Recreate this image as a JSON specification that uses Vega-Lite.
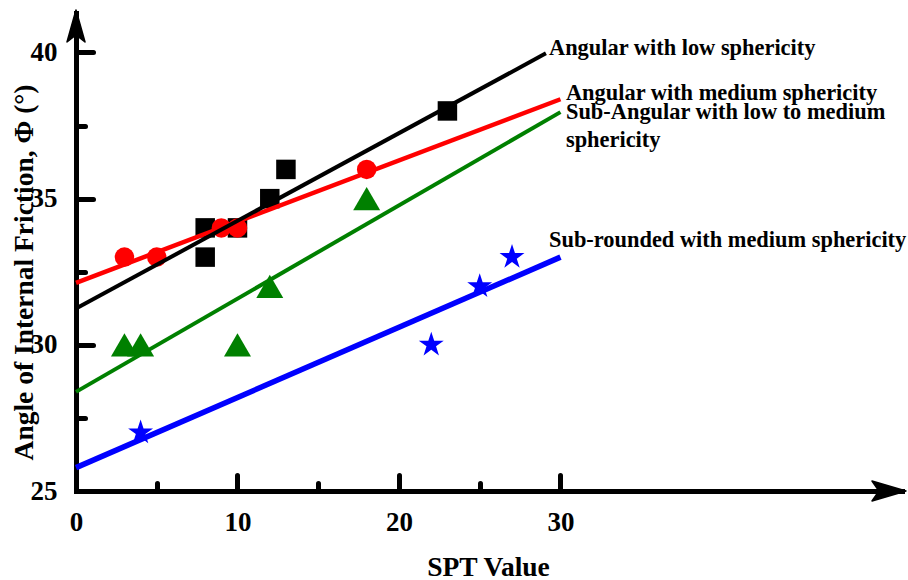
{
  "$schema": "https://vega.github.io/schema/vega-lite/v6.json",
  "width": 826,
  "height": 478,
  "autosize": {"type": "none"},
  "padding": {"left": 76, "top": 13, "right": 6, "bottom": 89},
  "background": "white",
  "config": {"view": {"stroke": null}, "font": "Liberation Serif"},
  "datasets": {
    "points": [
      {"series": "square", "x": 8, "y": 34},
      {"series": "square", "x": 8, "y": 33},
      {"series": "square", "x": 10, "y": 34},
      {"series": "square", "x": 12, "y": 35},
      {"series": "square", "x": 13, "y": 36},
      {"series": "square", "x": 23, "y": 38},
      {"series": "circle", "x": 3, "y": 33},
      {"series": "circle", "x": 5, "y": 33},
      {"series": "circle", "x": 9, "y": 34},
      {"series": "circle", "x": 10, "y": 34},
      {"series": "circle", "x": 18, "y": 36},
      {"series": "triangle", "x": 3, "y": 30},
      {"series": "triangle", "x": 4, "y": 30},
      {"series": "triangle", "x": 10, "y": 30},
      {"series": "triangle", "x": 12, "y": 32},
      {"series": "triangle", "x": 18, "y": 35},
      {"series": "star", "x": 4, "y": 27},
      {"series": "star", "x": 22, "y": 30},
      {"series": "star", "x": 25, "y": 32},
      {"series": "star", "x": 27, "y": 33}
    ],
    "lines": [
      {"series": "black", "x": 0, "y": 31.24},
      {"series": "black", "x": 29.1, "y": 39.97},
      {"series": "red", "x": 0, "y": 32.12},
      {"series": "red", "x": 30, "y": 38.4},
      {"series": "green", "x": 0, "y": 28.39},
      {"series": "green", "x": 30, "y": 37.96},
      {"series": "blue", "x": 0, "y": 25.8},
      {"series": "blue", "x": 30, "y": 33.0}
    ],
    "labels": [
      {"text": "Angular with low sphericity", "x": 29.29, "y": 40.15},
      {"text": "Angular with medium sphericity", "x": 30.34, "y": 38.6},
      {"text": "Sub-Angular with low to medium", "x": 30.34, "y": 37.96},
      {"text": "sphericity", "x": 30.34, "y": 37.0},
      {"text": "Sub-rounded with medium sphericity", "x": 29.29, "y": 33.58}
    ]
  },
  "encoding": {
    "x": {
      "field": "x", "type": "quantitative",
      "scale": {"domain": [0, 51.15], "nice": false, "zero": false},
      "axis": {
        "title": "SPT Value",
        "values": [0, 5, 10, 15, 20, 25, 30],
        "labelExpr": "datum.value % 10 === 0 ? datum.label : ''",
        "grid": false,
        "domainColor": "black", "domainWidth": 5, "domainCap": "square",
        "tickColor": "black", "tickWidth": 5, "tickCap": "round",
        "tickSize": {"condition": {"test": "datum.value % 10 === 0", "value": -16}, "value": -8},
        "labelFont": "Liberation Serif", "labelFontWeight": "bold", "labelFontSize": 27, "labelColor": "black",
        "labelBaseline": "alphabetic", "labelPadding": 55, "labelFlush": false, "labelOverlap": false, "labelBound": false,
        "titleFont": "Liberation Serif", "titleFontWeight": "bold", "titleFontSize": 27.5, "titleColor": "black",
        "titleBaseline": "alphabetic", "titleX": 412, "titleY": 84, "titleAnchor": "middle"
      }
    },
    "y": {
      "field": "y", "type": "quantitative",
      "scale": {"domain": [25, 41.35], "nice": false, "zero": false},
      "axis": {
        "title": "Angle of Internal Friction, Φ (°)",
        "values": [25, 27.5, 30, 32.5, 35, 37.5, 40],
        "labelExpr": "datum.value % 5 === 0 ? datum.label : ''",
        "grid": false,
        "domainColor": "black", "domainWidth": 5, "domainCap": "square",
        "tickColor": "black", "tickWidth": 5, "tickCap": "round",
        "tickSize": {"condition": {"test": "datum.value % 5 === 0", "value": -17}, "value": -9},
        "labelFont": "Liberation Serif", "labelFontWeight": "bold", "labelFontSize": 27, "labelColor": "black",
        "labelPadding": 36, "labelFlush": false, "labelOverlap": false, "labelBound": false,
        "titleFont": "Liberation Serif", "titleFontWeight": "bold", "titleFontSize": 27.5, "titleColor": "black",
        "titleAngle": -90, "titleBaseline": "middle", "titleAlign": "center", "titleX": -52, "titleY": 259
      }
    }
  },
  "layer": [
    {
      "data": {"name": "points"},
      "transform": [{"filter": "datum.series === 'square'"}],
      "mark": {"type": "point", "shape": "square", "filled": true, "color": "black", "size": 380, "opacity": 1}
    },
    {
      "data": {"name": "points"},
      "transform": [{"filter": "datum.series === 'circle'"}],
      "mark": {"type": "point", "shape": "circle", "filled": true, "color": "#ff0000", "size": 380, "opacity": 1}
    },
    {
      "data": {"name": "points"},
      "transform": [{"filter": "datum.series === 'triangle'"}],
      "mark": {"type": "point", "shape": "triangle-up", "filled": true, "color": "#008000", "size": 729, "opacity": 1}
    },
    {
      "data": {"name": "points"},
      "transform": [{"filter": "datum.series === 'star'"}],
      "mark": {"type": "point", "shape": "M0,-1 L0.2245,-0.309 L0.951,-0.309 L0.3633,0.118 L0.588,0.809 L0,0.382 L-0.588,0.809 L-0.3633,0.118 L-0.951,-0.309 L-0.2245,-0.309 Z", "filled": true, "color": "#0000ff", "size": 687, "opacity": 1}
    },
    {
      "data": {"name": "lines"},
      "transform": [{"filter": "datum.series === 'red'"}],
      "mark": {"type": "line", "color": "#ff0000", "strokeWidth": 4.5}
    },
    {
      "data": {"name": "lines"},
      "transform": [{"filter": "datum.series === 'green'"}],
      "mark": {"type": "line", "color": "#008000", "strokeWidth": 4}
    },
    {
      "data": {"name": "lines"},
      "transform": [{"filter": "datum.series === 'blue'"}],
      "mark": {"type": "line", "color": "#0000ff", "strokeWidth": 5.5}
    },
    {
      "data": {"name": "lines"},
      "transform": [{"filter": "datum.series === 'black'"}],
      "mark": {"type": "line", "color": "black", "strokeWidth": 4}
    },
    {
      "data": {"name": "labels"},
      "mark": {"type": "text", "align": "left", "baseline": "middle", "font": "Liberation Serif", "fontWeight": "bold", "fontSize": 22.4, "color": "black"},
      "encoding": {"text": {"field": "text"}}
    },
    {
      "data": {"values": [{"x": 51.15, "y": 25}]},
      "mark": {"type": "point", "shape": "M0.4,0 L-3.0,-1 L-2.3,0 L-3.0,1 Z", "size": 400, "filled": true, "color": "black", "stroke": "black", "strokeWidth": 1.5, "strokeJoin": "round", "opacity": 1}
    },
    {
      "data": {"values": [{"x": 0, "y": 41.35}]},
      "mark": {"type": "point", "shape": "M0,-0.3 L-0.9,2.9 L0,2.2 L0.9,2.9 Z", "size": 400, "filled": true, "color": "black", "stroke": "black", "strokeWidth": 1.5, "strokeJoin": "round", "opacity": 1}
    }
  ]
}
